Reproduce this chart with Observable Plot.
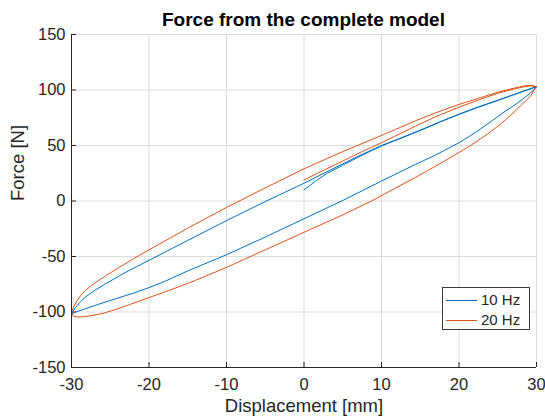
<!DOCTYPE html>
<html><head><meta charset="utf-8">
<script src="https://cdn.jsdelivr.net/npm/d3@7"></script>
<script src="https://cdn.jsdelivr.net/npm/@observablehq/plot@0.6"></script>
<style>
body{margin:0;background:#fff;font-family:"Liberation Sans",Arial,sans-serif;}
#wrap{position:relative;width:545px;height:419px;}
#titlebox{position:relative;height:24px;}
#title{position:absolute;left:71px;width:465px;top:10px;text-align:center;font-weight:bold;font-size:19px;line-height:1;color:#000;white-space:nowrap;}
#legend{position:absolute;left:442px;top:287px;width:86px;height:41px;border:1px solid #3a3a3a;background:#fff;font-size:15px;color:#262626;}
.row{position:absolute;left:3px;height:16px;line-height:16px;white-space:nowrap;}
.sw{display:inline-block;width:31px;height:0;border-top:1px solid;vertical-align:middle;margin-right:4px;position:relative;top:-1px;}
</style></head><body>
<div id="wrap">
<div id="titlebox"><div id="title">Force from the complete model</div></div>
<div id="chart"></div>
<div id="legend"></div>
</div>
<script>
// Series names and colours
const seriesNames = ["10 Hz", "20 Hz"];
const seriesColors = ["#0072BD", "#D95319"];

// Axis domains and ticks
const xDomain = [-30, 30];
const yDomain = [-150, 150];
const xTicks = [-30, -20, -10, 0, 10, 20, 30];
const yTicks = [-150, -100, -50, 0, 50, 100, 150];

// 10 Hz: initial loading (0 -> 30), unloading branch (30 -> -30), loading branch (-30 -> 30)
const blueX = [
  0, 1.5, 3, 5, 7.5, 10, 12.5, 15, 17.5, 20, 22.5, 25, 27, 28.5, 30,
  29.5, 28.8, 27.5, 25.8, 24.3, 22.8, 21.4, 20, 17, 14.4, 10, 5, 0, -5, -10, -15, -18, -20, -22, -24.4, -26.5, -28.3, -29.3, -30,
  -29.5, -29, -28.3, -27, -25.7, -23.1, -20, -15, -10, -5, 0, 5, 7.5, 10, 12.5, 15, 17.5, 20, 22.5, 25, 27, 28.5, 30
];
const blueY = [
  10, 18, 25, 32.3, 41.3, 49.6, 56.5, 63.5, 71, 78, 84.5, 90.5, 95.5, 99.3, 103,
  99, 95, 88, 80, 72.5, 65, 58.5, 52.5, 41.5, 33, 18, 0.5, -16, -32.5, -48.4, -63, -72.5, -78, -83, -88.3, -93, -97.3, -99.7, -101.5,
  -96, -92, -87, -80.5, -75, -64.5, -53.5, -35.5, -17.7, -0.5, 16, 33.5, 42, 50, 56.8, 63.8, 71.2, 78.3, 84.8, 90.8, 95.8, 99.5, 103
];

// 20 Hz: initial loading (0 -> 30), unloading branch (30 -> -30), loading branch (-30 -> 30)
const orangeX = [
  0, 2.5, 5, 7.5, 10, 12.5, 14.4, 17, 20, 22.5, 25, 27, 28.5, 29.3, 30,
  29.6, 29.3, 28.5, 27.1, 25.5, 23.7, 21.5, 19.3, 17, 14.4, 11.5, 8.8, 5, 0, -5, -10, -14, -17.5, -20, -22.5, -24.4, -26, -27.4, -28.5, -29.3, -29.8, -30,
  -29.7, -29.3, -28.8, -28.2, -27.4, -26.5, -25.5, -24, -22, -20, -15, -10, -5, 0, 5, 10, 14.4, 17, 20, 22.5, 25, 27, 28.5, 29.3, 30
];
const orangeY = [
  19, 27.5, 36, 44.5, 52.5, 61, 67.5, 76, 84.5, 91, 97, 100.8, 103, 103.8, 103,
  99, 95, 89.5, 80, 70, 60.4, 50, 40.8, 31.5, 21.3, 10.5, 0.3, -12.5, -28.2, -44, -59.8, -71.5, -80.8, -87, -93.3, -98, -101.3, -103.3, -104.3, -104.5, -103.5, -100,
  -95, -90, -85, -80.5, -76, -71.5, -67, -60.5, -52, -44, -24.5, -5.8, 11.8, 29, 44.5, 59, 72.3, 79.5, 87, 92.5, 98, 101.5, 103.8, 104.3, 103
];

const rows = [];
blueX.forEach((x, i) => rows.push({x, y: blueY[i], series: seriesNames[0]}));
orangeX.forEach((x, i) => rows.push({x, y: orangeY[i], series: seriesNames[1]}));

const W = 545, H = 395, mL = 71, mR = 9, mT = 10, mB = 52;
const frameW = W - mL - mR, frameH = H - mT - mB;
const axisColor = "#262626";

const chart = Plot.plot({
  width: W, height: H,
  marginLeft: mL, marginRight: mR, marginTop: mT, marginBottom: mB,
  style: {fontFamily: "'Liberation Sans', Arial, sans-serif", background: "white", color: axisColor},
  x: {domain: xDomain},
  y: {domain: yDomain},
  color: {domain: seriesNames, range: seriesColors},
  marks: [
    Plot.gridX(xTicks, {stroke: "#dcdcdc", strokeOpacity: 1}),
    Plot.gridY(yTicks, {stroke: "#dcdcdc", strokeOpacity: 1}),
    Plot.tickX(xTicks, {x: d => d, stroke: axisColor, insetTop: frameH - 5}),
    Plot.tickY(yTicks, {y: d => d, stroke: axisColor, insetRight: frameW - 5}),
    Plot.line(rows, {x: "x", y: "y", z: "series", stroke: "series", strokeWidth: 1}),
    Plot.ruleX([xDomain[0]], {stroke: axisColor, strokeWidth: 1}),
    Plot.ruleY([yDomain[0]], {stroke: axisColor, strokeWidth: 1}),
    Plot.axisX({ticks: xTicks, tickSize: 0, tickPadding: 11, fontSize: 16.5, label: null, tickFormat: d => String(d)}),
    Plot.axisY({ticks: yTicks, tickSize: 0, tickPadding: 6, fontSize: 16.5, label: null, tickFormat: d => String(d)}),
    Plot.text(["Displacement [mm]"], {frameAnchor: "bottom", dy: 44, fontSize: 18.5, fill: axisColor}),
    Plot.text(["Force [N]"], {frameAnchor: "left", dx: -53, rotate: -90, fontSize: 18.5, fill: axisColor})
  ]
});
document.getElementById("chart").appendChild(chart);

// Legend
const leg = document.getElementById("legend");
seriesNames.forEach((name, i) => {
  const r = document.createElement("div");
  r.className = "row";
  r.style.top = (4 + i * 20) + "px";
  const sw = document.createElement("span");
  sw.className = "sw";
  sw.style.borderTopColor = seriesColors[i];
  r.appendChild(sw);
  r.appendChild(document.createTextNode(name));
  leg.appendChild(r);
});
</script>
</body></html>
